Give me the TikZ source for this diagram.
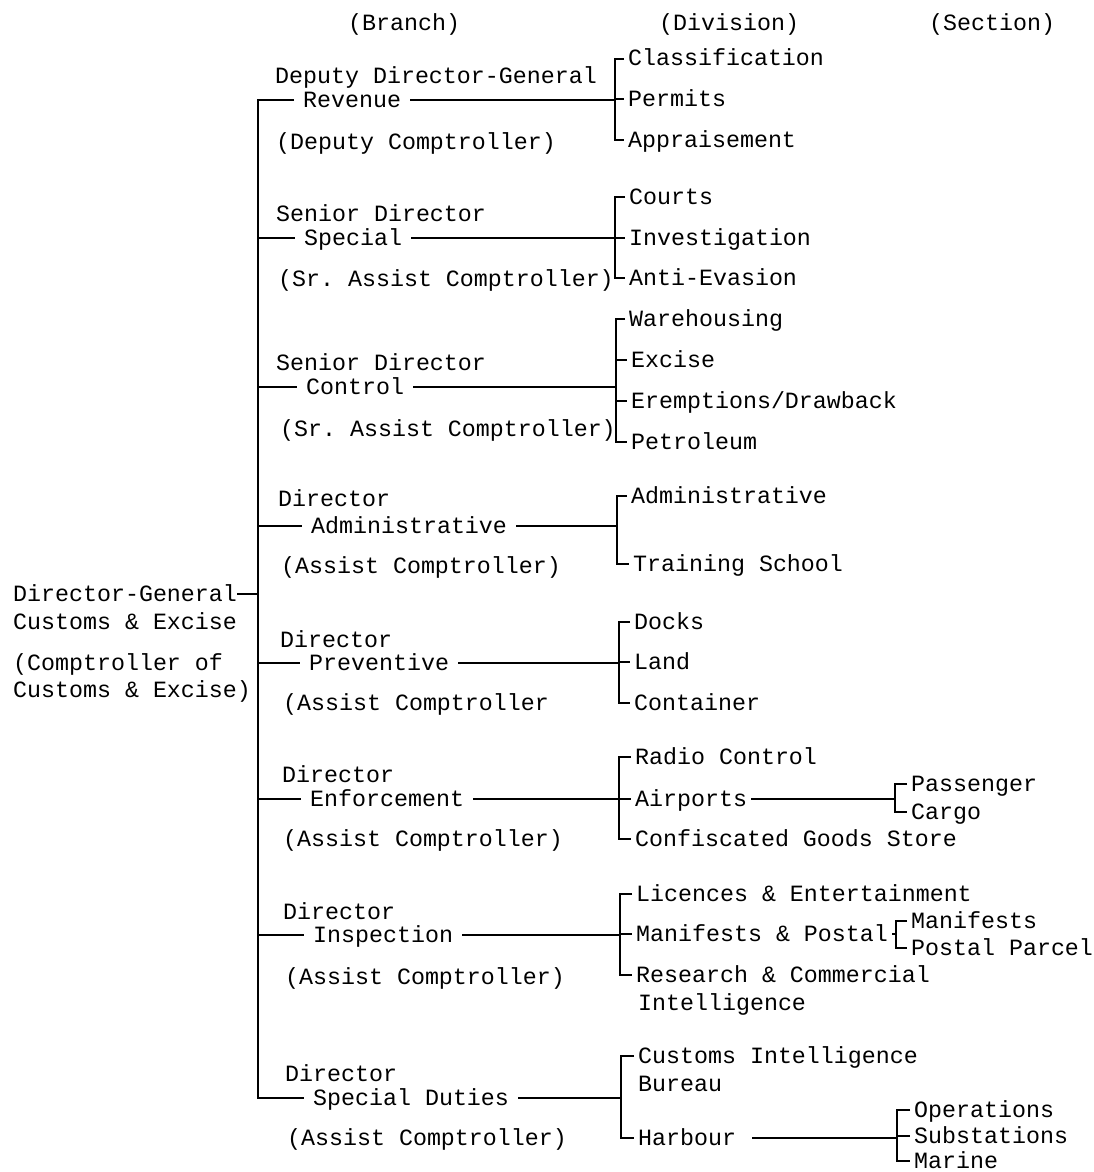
\documentclass[tikz,border=0pt]{standalone}
\usepackage{fontspec}
\setmonofont{Liberation Mono}
\begin{document}
\begin{tikzpicture}[x=1pt,y=-1pt,
  every node/.style={font=\fontsize{23.3}{28}\ttfamily, inner ysep=0pt,
    text height=14pt, text depth=0pt, anchor=west},
  lbl/.style={inner xsep=0pt},
  brn/.style={inner xsep=9pt},
  dv/.style={inner xsep=4pt},
  wire/.style={line width=1.7pt}]
\useasboundingbox (0,0) rectangle (1093,1172);

% column headings
\node[lbl] (hB) at (348,24) {(Branch)};
\node[lbl] (hD) at (659,24) {(Division)};
\node[lbl] (hS) at (929,24) {(Section)};

% head of department
\node[lbl] (dg1) at (13,594) {Director-General};
\node[lbl] (dg2) at (13,622) {Customs \& Excise};
\node[lbl] (dg3) at (13,663) {(Comptroller of};
\node[lbl] (dg4) at (13,690) {Customs \& Excise)};

% branches
\node[lbl] (t1) at (275,76) {Deputy Director-General};
\node[brn] (n1) at (294,100) {Revenue};
\node[lbl] (c1) at (276,142) {(Deputy Comptroller)};

\node[lbl] (t2) at (276,214) {Senior Director};
\node[brn] (n2) at (295,238) {Special};
\node[lbl] (c2) at (278,279) {(Sr. Assist Comptroller)};

\node[lbl] (t3) at (276,363) {Senior Director};
\node[brn] (n3) at (297,387) {Control};
\node[lbl] (c3) at (280,429) {(Sr. Assist Comptroller)};

\node[lbl] (t4) at (278,499) {Director};
\node[brn] (n4) at (302,526) {Administrative};
\node[lbl] (c4) at (281,566) {(Assist Comptroller)};

\node[lbl] (t5) at (280,640) {Director};
\node[brn] (n5) at (300,663) {Preventive};
\node[lbl] (c5) at (283,703) {(Assist Comptroller};

\node[lbl] (t6) at (282,775) {Director};
\node[brn] (n6) at (301,799) {Enforcement};
\node[lbl] (c6) at (283,839) {(Assist Comptroller)};

\node[lbl] (t7) at (283,912) {Director};
\node[brn] (n7) at (304,935) {Inspection};
\node[lbl] (c7) at (285,977) {(Assist Comptroller)};

\node[lbl] (t8) at (285,1074) {Director};
\node[brn] (n8) at (304,1098) {Special Duties};
\node[lbl] (c8) at (287,1138) {(Assist Comptroller)};

% divisions
\node[dv] (cls) at (624,59) {Classification};
\node[dv] (per) at (624,99) {Permits};
\node[dv] (app) at (624,140) {Appraisement};

\node[dv] (crt) at (625,197) {Courts};
\node[dv] (inv) at (625,238) {Investigation};
\node[dv] (aev) at (625,278) {Anti-Evasion};

\node[dv] (whs) at (625,319) {Warehousing};
\node[dv] (exc) at (627,360) {Excise};
\node[dv] (erd) at (627,401) {Eremptions/Drawback};
\node[dv] (pet) at (627,442) {Petroleum};

\node[dv] (adm) at (627,496) {Administrative};
\node[dv] (trn) at (629,564) {Training School};

\node[dv] (dck) at (630,622) {Docks};
\node[dv] (lnd) at (630,662) {Land};
\node[dv] (con) at (630,703) {Container};

\node[dv] (rad) at (631,757) {Radio Control};
\node[dv] (air) at (631,799) {Airports};
\node[dv] (cgs) at (631,839) {Confiscated Goods Store};

\node[dv] (lic) at (632,894) {Licences \& Entertainment};
\node[dv] (mnp) at (632,934) {Manifests \& Postal};
\node[dv] (rci) at (632,975) {Research \& Commercial};
\node[dv] (rci2) at (634,1003) {Intelligence};

\node[dv] (cib) at (634,1056) {Customs Intelligence};
\node[dv] (cib2) at (634,1084) {Bureau};
\node[dv] (hbr) at (634,1138) {Harbour};

% sections
\node[dv] (pas) at (907,784) {Passenger};
\node[dv] (crg) at (907,812) {Cargo};

\node[dv] (man) at (907,921) {Manifests};
\node[dv] (ppa) at (907,948) {Postal Parcel};

\node[dv] (ops) at (910,1110) {Operations};
\node[dv] (sub) at (910,1136) {Substations};
\node[dv] (mar) at (910,1161) {Marine};

% trunk and bracket positions
\coordinate (T) at (258,0);
\coordinate (B1) at (615,0);
\coordinate (B2) at (615,0);
\coordinate (B3) at (616,0);
\coordinate (B4) at (617,0);
\coordinate (B5) at (619,0);
\coordinate (B6) at (619,0);
\coordinate (B7) at (620,0);
\coordinate (B8) at (621,0);
\coordinate (S6) at (895,0);
\coordinate (S7) at (896,0);
\coordinate (S8) at (897,0);

% main trunk with branch stubs
\draw[wire] (dg1.east) -- (dg1.east -| T);
\draw[wire] (n1.west) -- (n1.west -| T) -- (n8.west -| T) -- (n8.west);
\foreach \n in {n2,n3,n4,n5,n6,n7}
  \draw[wire] (\n.west -| T) -- (\n.west);

% branch to division brackets
\draw[wire] (n1.east) -- (n1.east -| B1);
\draw[wire] (cls.west) -- (cls.west -| B1) -- (app.west -| B1) -- (app.west);
\draw[wire] (per.west -| B1) -- (per.west);

\draw[wire] (n2.east) -- (n2.east -| B2);
\draw[wire] (crt.west) -- (crt.west -| B2) -- (aev.west -| B2) -- (aev.west);
\draw[wire] (inv.west -| B2) -- (inv.west);

\draw[wire] (n3.east) -- (n3.east -| B3);
\draw[wire] (whs.west) -- (whs.west -| B3) -- (pet.west -| B3) -- (pet.west);
\draw[wire] (exc.west -| B3) -- (exc.west);
\draw[wire] (erd.west -| B3) -- (erd.west);

\draw[wire] (n4.east) -- (n4.east -| B4);
\draw[wire] (adm.west) -- (adm.west -| B4) -- (trn.west -| B4) -- (trn.west);

\draw[wire] (n5.east) -- (n5.east -| B5);
\draw[wire] (dck.west) -- (dck.west -| B5) -- (con.west -| B5) -- (con.west);
\draw[wire] (lnd.west -| B5) -- (lnd.west);

\draw[wire] (n6.east) -- (n6.east -| B6);
\draw[wire] (rad.west) -- (rad.west -| B6) -- (cgs.west -| B6) -- (cgs.west);
\draw[wire] (air.west -| B6) -- (air.west);

\draw[wire] (n7.east) -- (n7.east -| B7);
\draw[wire] (lic.west) -- (lic.west -| B7) -- (rci.west -| B7) -- (rci.west);
\draw[wire] (mnp.west -| B7) -- (mnp.west);

\draw[wire] (n8.east) -- (n8.east -| B8);
\draw[wire] (cib.west) -- (cib.west -| B8) -- (hbr.west -| B8) -- (hbr.west);

% division to section brackets
\draw[wire] (air.east) -- (air.east -| S6);
\draw[wire] (pas.west) -- (pas.west -| S6) -- (crg.west -| S6) -- (crg.west);

\draw[wire] (mnp.east) -- (mnp.east -| S7);
\draw[wire] (man.west) -- (man.west -| S7) -- (ppa.west -| S7) -- (ppa.west);

\draw[wire] ([xshift=12pt]hbr.east) -- (hbr.east -| S8);
\draw[wire] (ops.west) -- (ops.west -| S8) -- (mar.west -| S8) -- (mar.west);
\draw[wire] (sub.west -| S8) -- (sub.west);
\end{tikzpicture}
\end{document}
